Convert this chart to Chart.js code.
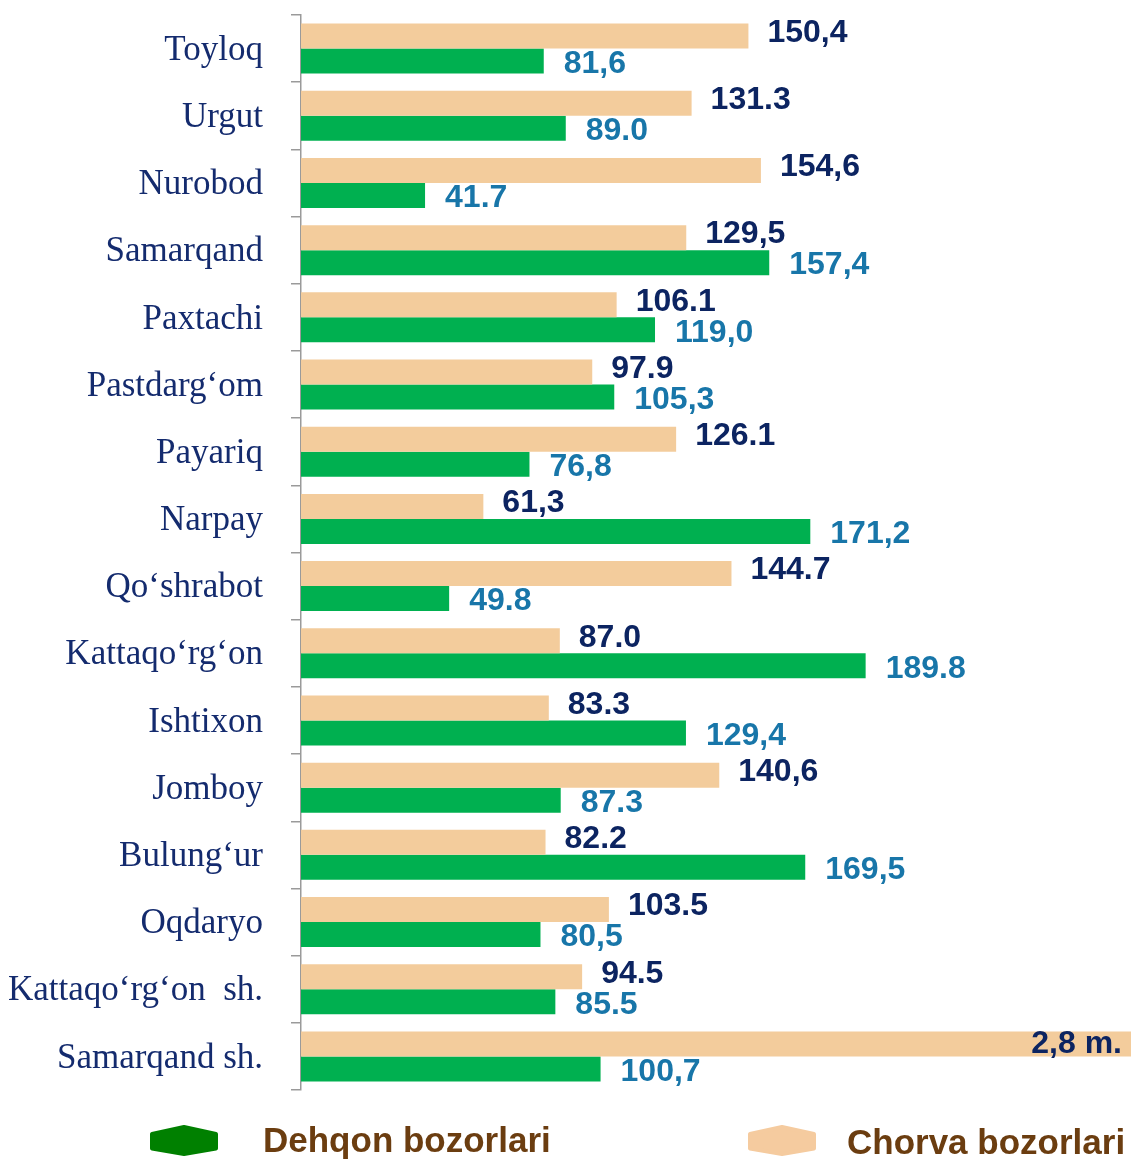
<!DOCTYPE html>
<html>
<head>
<meta charset="utf-8">
<script src="https://cdn.jsdelivr.net/npm/chart.js@4.4.1/dist/chart.umd.min.js"></script>
<style>
  body { margin: 0; background: #fff; }
  #wrap { width: 1131px; height: 1160px; }
</style>
</head>
<body>
<div id="wrap"><canvas id="bars" width="1131" height="1160"></canvas></div>
<script>
// districts, top to bottom
var districts = ['Toyloq', 'Urgut', 'Nurobod', 'Samarqand', 'Paxtachi', 'Pastdarg‘om', 'Payariq', 'Narpay',
    'Qo‘shrabot', 'Kattaqo‘rg‘on', 'Ishtixon', 'Jomboy', 'Bulung‘ur', 'Oqdaryo', 'Kattaqo‘rg‘on  sh.', 'Samarqand sh.'];

// Chorva bozorlari (livestock markets); last one is 2,8 ming
var chorva = [150.4, 131.3, 154.6, 129.5, 106.1, 97.9, 126.1, 61.3, 144.7, 87.0, 83.3, 140.6, 82.2, 103.5, 94.5, 2800];
var chorvaText = ['150,4', '131.3', '154,6', '129,5', '106.1', '97.9', '126.1', '61,3', '144.7', '87.0', '83.3', '140,6', '82.2', '103.5', '94.5', '2,8 m.'];

// Dehqon bozorlari (farmers markets)
var dehqon = [81.6, 89.0, 41.7, 157.4, 119.0, 105.3, 76.8, 171.2, 49.8, 189.8, 129.4, 87.3, 169.5, 80.5, 85.5, 100.7];
var dehqonText = ['81,6', '89.0', '41.7', '157,4', '119,0', '105,3', '76,8', '171,2', '49.8', '189.8', '129,4', '87.3', '169,5', '80,5', '85.5', '100,7'];

var legendNames = ['Dehqon bozorlari', 'Chorva bozorlari'];

var labelFont = 'bold 32px "Liberation Sans", Arial, sans-serif';

// value labels next to bar ends
var valueLabels = {
    id: 'valueLabels',
    afterDatasetsDraw: function(chart){
        var ctx = chart.ctx;
        var area = chart.chartArea;
        ctx.save();
        ctx.font = labelFont;
        ctx.textBaseline = 'middle';
        chart.data.datasets.forEach(function(ds, i){
            var meta = chart.getDatasetMeta(i);
            meta.data.forEach(function(bar, j){
                var txt = ds.texts[j];
                var w = ctx.measureText(txt).width;
                var x = bar.x + ds.labelDx;
                var y = bar.y + ds.labelDy;
                ctx.fillStyle = ds.labelColor;
                if (x + w > area.right) {
                    ctx.textAlign = 'right';
                    ctx.fillText(txt, area.right - 9, bar.y);
                } else {
                    ctx.textAlign = 'left';
                    ctx.fillText(txt, x, y);
                }
            });
        });
        ctx.restore();
    }
};

function hexagon(ctx, x, y, w, h){
    // slightly rounded corners via stroke with round joins
    var r = 2;
    x += r; y += r; w -= 2 * r; h -= 2 * r;
    ctx.beginPath();
    ctx.moveTo(x, y + h * 0.26);
    ctx.lineTo(x + w / 2, y);
    ctx.lineTo(x + w, y + h * 0.26);
    ctx.lineTo(x + w, y + h * 0.8);
    ctx.lineTo(x + w / 2, y + h);
    ctx.lineTo(x, y + h * 0.8);
    ctx.closePath();
    ctx.fill();
    ctx.lineJoin = 'round';
    ctx.lineWidth = 2 * r;
    ctx.strokeStyle = ctx.fillStyle;
    ctx.stroke();
}

// legend along the bottom
var bottomLegend = {
    id: 'bottomLegend',
    afterDraw: function(chart){
        var ctx = chart.ctx;
        ctx.save();
        ctx.fillStyle = '#008000';
        hexagon(ctx, 150, 1125, 68, 31);
        ctx.fillStyle = '#F5CB9F';
        hexagon(ctx, 748, 1125, 68, 31);
        ctx.font = 'bold 35px "Liberation Sans", Arial, sans-serif';
        ctx.fillStyle = '#6B3D10';
        ctx.textBaseline = 'middle';
        ctx.textAlign = 'left';
        ctx.fillText(legendNames[0], 263, 1142);
        ctx.fillText(legendNames[1], 847, 1144);
        ctx.restore();
    }
};

var ctx = document.getElementById('bars').getContext('2d');
var chart = new Chart(ctx, {
    type: 'bar',
    data: {
        labels: districts,
        datasets: [{
            label: legendNames[1],
            data: chorva,
            texts: chorvaText,
            labelColor: '#0C2461',
            labelDx: 19,
            labelDy: -3,
            backgroundColor: '#F3CC9C',
            barPercentage: 1,
            categoryPercentage: 0.745
        }, {
            label: legendNames[0],
            data: dehqon,
            texts: dehqonText,
            labelColor: '#1876A9',
            labelDx: 20,
            labelDy: 3,
            backgroundColor: '#00B050',
            barPercentage: 1,
            categoryPercentage: 0.745
        }]
    },
    options: {
        indexAxis: 'y',
        responsive: false,
        animation: false,
        layout: { padding: { top: 15, bottom: 70, left: 0, right: 0 } },
        plugins: {
            legend: { display: false },
            tooltip: { enabled: false }
        },
        scales: {
            x: {
                display: false,
                min: 0,
                max: 279
            },
            y: {
                offset: true,
                border: { display: true, color: '#9A9A9A', width: 1.5 },
                grid: {
                    offset: true,
                    drawOnChartArea: false,
                    drawTicks: true,
                    tickLength: 10,
                    color: '#9A9A9A',
                    lineWidth: 1.5
                },
                ticks: {
                    color: '#142B6E',
                    padding: 28,
                    labelOffset: 2,
                    font: { family: '"Liberation Serif", "Times New Roman", serif', size: 35 }
                },
                afterFit: function(scale){
                    // labels should not push the plot down, fixed label column
                    scale.paddingTop = 0;
                    scale.paddingBottom = 0;
                    scale.width = 301;
                }
            }
        }
    },
    plugins: [valueLabels, bottomLegend]
});
</script>
</body>
</html>
